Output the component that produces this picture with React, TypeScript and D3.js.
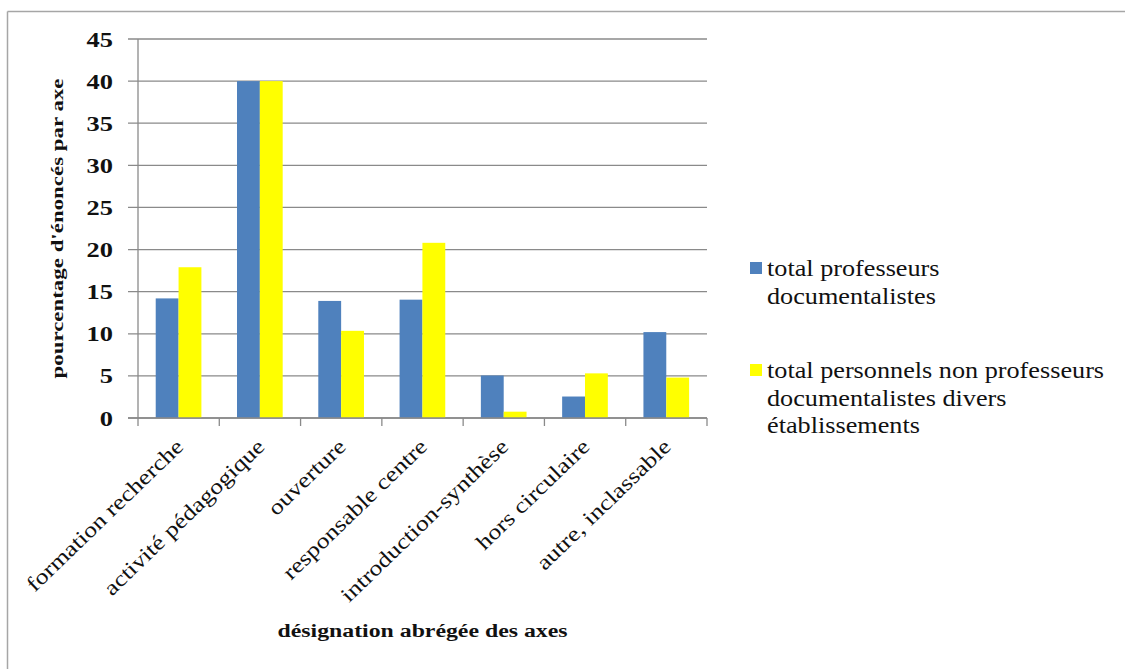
import React from "react";
import * as d3 from "d3";

const categories = [
  "formation recherche",
  "activité pédagogique",
  "ouverture",
  "responsable centre",
  "introduction-synthèse",
  "hors circulaire",
  "autre, inclassable",
];
const seriesNames = ["total professeurs documentalistes", "total personnels non professeurs documentalistes divers établissements"];
const seriesLegendLines = [
  ["total professeurs", "documentalistes"],
  ["total personnels non professeurs", "documentalistes divers", "établissements"],
];
const profDoc = [14.2, 40, 13.9, 14.05, 5.05, 2.55, 10.2];
const nonProf = [17.9, 40, 10.35, 20.8, 0.75, 5.3, 4.8];
const yTicks = [0, 5, 10, 15, 20, 25, 30, 35, 40, 45];
const colors = ["#4F81BD", "#FFFF00"];
const yTitle = "pourcentage d'énoncés par axe";
const xTitle = "désignation abrégée des axes";

const FONT = '"Liberation Serif", "Times New Roman", "DejaVu Serif", serif';
const fs = { fontFamily: FONT };

export default function App() {
  const W = 1125, H = 669;
  const left = 138, right = 707, top = 39, bottom = 418;
  const x0 = d3.scaleBand<string>().domain(categories).range([left, right]).padding(0);
  const bw = x0.bandwidth();
  const x1 = d3.scaleBand<number>().domain([0, 1]).range([bw * 0.218, bw * 0.78]).padding(0);
  const y = d3.scaleLinear().domain([0, 45]).range([bottom, top]);
  const series = [profDoc, nonProf];
  const gridColor = "#8a8a8a";

  const boundaries = categories.map((c) => x0(c) as number).concat([right]);

  return (
    <svg width={W} height={H} style={{ position: "absolute", left: 0, top: 0, background: "#fff", fontFamily: FONT }}>
      <rect x={0} y={0} width={W} height={H} fill="#fff" />
      {/* outer frame */}
      <line x1={7.5} y1={11.5} x2={W} y2={11.5} stroke="#a6a6a6" strokeWidth={1.5} />
      <line x1={7.5} y1={11.5} x2={7.5} y2={H} stroke="#a6a6a6" strokeWidth={1.5} />

      {/* gridlines + y ticks */}
      {yTicks.map((t) => (
        <g key={t}>
          <line x1={128} x2={right} y1={y(t)} y2={y(t)} stroke={gridColor} strokeWidth={1.3} />
          <text
            transform={`translate(113,${y(t) + 7.5}) scale(1.2,1)`}
            textAnchor="end"
            fontSize={22}
            fontWeight="bold"
            fill="#111"
            style={fs}
          >
            {t}
          </text>
        </g>
      ))}

      {/* bars */}
      {categories.map((c, i) => (
        <g key={c}>
          {series.map((s, j) => (
            <rect
              key={j}
              x={(x0(c) as number) + (x1(j) as number)}
              y={y(s[i])}
              width={x1.bandwidth()}
              height={y(0) - y(s[i])}
              fill={colors[j]}
            />
          ))}
        </g>
      ))}

      {/* axes */}
      <line x1={left} x2={left} y1={top} y2={bottom} stroke={gridColor} strokeWidth={1.3} />
      <line x1={128} x2={right} y1={bottom} y2={bottom} stroke={gridColor} strokeWidth={1.3} />
      {boundaries.map((b, i) => (
        <line key={i} x1={b} x2={b} y1={bottom} y2={bottom + 8} stroke={gridColor} strokeWidth={1.3} />
      ))}

      {/* x labels */}
      {categories.map((c) => {
        const cx = (x0(c) as number) + bw / 2;
        return (
          <text
            key={c}
            transform={`translate(${cx + 6},${bottom + 30}) rotate(-44) scale(1.2,1)`}
            textAnchor="end"
            fontSize={21.5}
            fill="#111"
            style={fs}
          >
            {c}
          </text>
        );
      })}

      {/* axis titles */}
      <text
        transform={`translate(63,${(top + bottom) / 2}) rotate(-90)`}
        textAnchor="middle"
        fontSize={17}
        fontWeight="bold"
        textLength={300}
        lengthAdjust="spacingAndGlyphs"
        fill="#111"
        style={fs}
      >
        {yTitle}
      </text>
      <text
        x={(left + right) / 2}
        y={637}
        textAnchor="middle"
        fontSize={18}
        fontWeight="bold"
        textLength={290}
        lengthAdjust="spacingAndGlyphs"
        fill="#111"
        style={fs}
      >
        {xTitle}
      </text>

      {/* legend */}
      {seriesNames.map((name, j) => {
        const baseY = j === 0 ? 276 : 378;
        return (
          <g key={name}>
            <rect x={750} y={baseY - 14} width={12} height={12} fill={colors[j]} />
            {seriesLegendLines[j].map((ln, k) => (
              <text
                key={k}
                transform={`translate(767,${baseY + k * 27.5}) scale(1.14,1)`}
                fontSize={23}
                fill="#111"
                style={fs}
              >
                {ln}
              </text>
            ))}
          </g>
        );
      })}
    </svg>
  );
}
